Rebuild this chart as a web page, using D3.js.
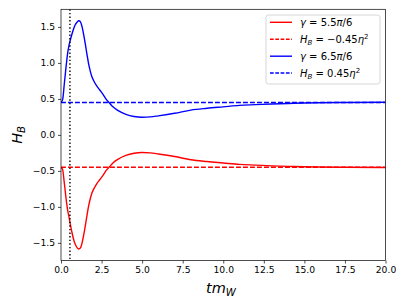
<!DOCTYPE html>
<html>
<head>
<meta charset="utf-8">
<script src="https://cdn.jsdelivr.net/npm/d3@7"></script>
<style>
    body { margin: 0; background: #fff; }
    svg { font-family: "DejaVu Sans", sans-serif; }
</style>
</head>
<body>
<svg id="chart" width="407" height="305"></svg>
<script>
'use strict';

// time axis (t m_W) and H_B values
var tValues = [0, 0.1, 0.2, 0.3, 0.4, 0.5, 0.6, 0.7, 0.8, 0.9, 1.0, 1.1, 1.2, 1.3, 1.4, 1.5,
    1.6, 1.7, 1.8, 1.9, 2.0, 2.2, 2.4, 2.6, 2.8, 3.0, 3.2, 3.5, 4.0, 4.5, 5.0, 5.5, 6.0,
    7.0, 8.0, 9.0, 10.0, 11.0, 12.0, 13.0, 14.0, 15.0, 17.5, 20.0];

var hbBlue = [0.45, 0.49, 0.70, 0.92, 1.12, 1.25, 1.34, 1.42, 1.49, 1.54, 1.57, 1.585,
    1.57, 1.50, 1.39, 1.26, 1.12, 0.99, 0.89, 0.81, 0.76, 0.68, 0.62, 0.56, 0.49, 0.44,
    0.39, 0.34, 0.285, 0.255, 0.245, 0.25, 0.265, 0.30, 0.345, 0.37, 0.39, 0.41, 0.42,
    0.43, 0.437, 0.443, 0.45, 0.453];

var hbRed = [-0.45, -0.48, -0.66, -0.86, -1.03, -1.15, -1.27, -1.38, -1.47, -1.53, -1.57,
    -1.585, -1.57, -1.50, -1.39, -1.26, -1.12, -0.99, -0.89, -0.81, -0.76, -0.68, -0.62,
    -0.56, -0.49, -0.44, -0.39, -0.34, -0.285, -0.255, -0.245, -0.25, -0.265, -0.30,
    -0.345, -0.37, -0.39, -0.41, -0.42, -0.43, -0.437, -0.443, -0.45, -0.453];

var refLevels = [-0.45, 0.45];
var markerT = 0.55;

var xTicks = [0, 2.5, 5, 7.5, 10, 12.5, 15, 17.5, 20];
var yTicks = [-1.5, -1.0, -0.5, 0.0, 0.5, 1.0, 1.5];

var margin = {top: 9.3, right: 21.5, bottom: 44.5, left: 61};
var width = 407 - margin.left - margin.right;
var height = 305 - margin.top - margin.bottom;

var svg = d3.select('#chart');
var g = svg.append('g')
    .attr('transform', 'translate(' + margin.left + ',' + margin.top + ')');

var x = d3.scaleLinear().domain([0, 20]).range([0, width]);
var y = d3.scaleLinear().domain([-1.745, 1.745]).range([height, 0]);

var clip = g.append('clipPath').attr('id', 'plotclip');
clip.append('rect').attr('width', width).attr('height', height);

var plot = g.append('g').attr('clip-path', 'url(#plotclip)');

var line = d3.line()
    .x(function(d) { return x(d[0]); })
    .y(function(d) { return y(d[1]); })
    .curve(d3.curveMonotoneX);

function pairs(vals) {
    return tValues.map(function(t, i) { return [t, vals[i]]; });
}

plot.append('path')
    .attr('d', line(pairs(hbRed)))
    .attr('fill', 'none')
    .attr('stroke', '#ff0000')
    .attr('stroke-width', 1.4);

plot.append('line')
    .attr('x1', x(0)).attr('x2', x(20))
    .attr('y1', y(refLevels[0])).attr('y2', y(refLevels[0]))
    .attr('stroke', '#ff0000')
    .attr('stroke-width', 1.4)
    .attr('stroke-dasharray', '4.9,2.1');

plot.append('path')
    .attr('d', line(pairs(hbBlue)))
    .attr('fill', 'none')
    .attr('stroke', '#0000ff')
    .attr('stroke-width', 1.4);

plot.append('line')
    .attr('x1', x(0)).attr('x2', x(20))
    .attr('y1', y(refLevels[1])).attr('y2', y(refLevels[1]))
    .attr('stroke', '#0000ff')
    .attr('stroke-width', 1.4)
    .attr('stroke-dasharray', '4.9,2.1');

plot.append('line')
    .attr('x1', x(markerT)).attr('x2', x(markerT))
    .attr('y1', 0).attr('y2', height)
    .attr('stroke', '#000')
    .attr('stroke-width', 1.4)
    .attr('stroke-dasharray', '1.4,2.2');

// axes
var xAxis = g.append('g')
    .attr('transform', 'translate(0,' + height + ')')
    .call(d3.axisBottom(x).tickValues(xTicks).tickFormat(d3.format('.1f'))
        .tickSizeInner(3).tickSizeOuter(0).tickPadding(3));

var yAxis = g.append('g')
    .call(d3.axisLeft(y).tickValues(yTicks)
        .tickFormat(function(d) { return d3.format('.1f')(d).replace('-', '\u2212'); })
        .tickSizeInner(3).tickSizeOuter(0).tickPadding(3));

[xAxis, yAxis].forEach(function(a) {
    a.selectAll('.domain').remove();
    a.selectAll('line').attr('stroke', '#000').attr('stroke-width', 0.7);
    a.selectAll('text').attr('font-size', '9.2px').attr('fill', '#000')
        .attr('font-family', '"DejaVu Sans", sans-serif');
});

g.append('rect')
    .attr('width', width).attr('height', height)
    .attr('fill', 'none')
    .attr('stroke', '#000')
    .attr('stroke-width', 0.7);

// axis labels
var xl = svg.append('text')
    .attr('x', 221)
    .attr('y', 293)
    .attr('text-anchor', 'middle')
    .attr('font-size', '14.5px')
    .attr('font-style', 'italic');
xl.append('tspan').text('tm');
xl.append('tspan').attr('font-size', '10.2px').attr('dy', 3).text('W');

var yl = svg.append('text')
    .attr('transform', 'translate(22,' + (margin.top + height / 2) + ') rotate(-90)')
    .attr('text-anchor', 'middle')
    .attr('font-size', '14.5px')
    .attr('font-style', 'italic');
yl.append('tspan').text('H');
yl.append('tspan').attr('font-size', '10.2px').attr('dy', 3).text('B');

// legend
var legendItems = [
    {color: '#ff0000', dash: null, parts: [['\u03b3', true], [' = 5.5', false], ['\u03c0', true], ['/6', false]]},
    {color: '#ff0000', dash: '3.7,1.6', parts: [['H', true], ['B', true, 'sub'], [' = \u22120.45', false, 'base'], ['\u03b7', true], ['2', false, 'sup']]},
    {color: '#0000ff', dash: null, parts: [['\u03b3', true], [' = 6.5', false], ['\u03c0', true], ['/6', false]]},
    {color: '#0000ff', dash: '3.7,1.6', parts: [['H', true], ['B', true, 'sub'], [' = 0.45', false, 'base'], ['\u03b7', true], ['2', false, 'sup']]}
];
var rowY = [22.3, 39.2, 56.2, 73];

var lg = svg.append('g');
lg.append('rect')
    .attr('x', 266).attr('y', 15)
    .attr('width', 114).attr('height', 69)
    .attr('rx', 2.5)
    .attr('fill', '#fff').attr('fill-opacity', 0.8)
    .attr('stroke', '#cccccc').attr('stroke-width', 0.8);

legendItems.forEach(function(item, i) {
    var cy = rowY[i];
    lg.append('line')
        .attr('x1', 270).attr('x2', 292)
        .attr('y1', cy).attr('y2', cy)
        .attr('stroke', item.color)
        .attr('stroke-width', 1.4)
        .attr('stroke-dasharray', item.dash);
    var tx = lg.append('text')
        .attr('x', 300).attr('y', cy + 3.6)
        .attr('font-size', '10px');
    item.parts.forEach(function(p) {
        var ts = tx.append('tspan').text(p[0]);
        if (p[1]) ts.attr('font-style', 'italic');
        if (p[2] === 'sub') ts.attr('font-size', '7px').attr('dy', 2.2);
        if (p[2] === 'base') ts.attr('dy', -2.2);
        if (p[2] === 'sup') ts.attr('font-size', '7px').attr('dy', -4);
    });
});
</script>
</body>
</html>
